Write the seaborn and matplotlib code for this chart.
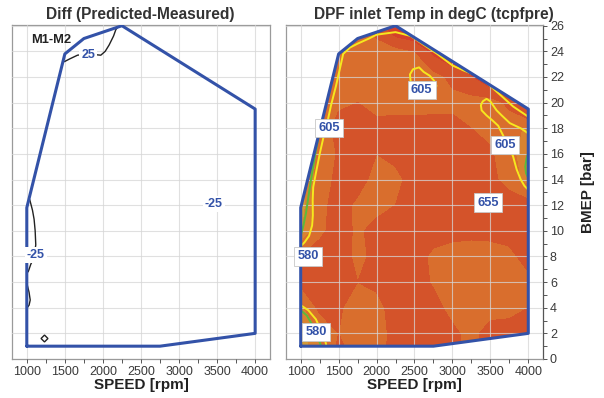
import matplotlib
matplotlib.use("Agg")
import matplotlib.pyplot as plt
from matplotlib.patches import Polygon
from matplotlib.ticker import MultipleLocator
import seaborn as sns

# --- data ------------------------------------------------------------------
speed = [1000, 1250, 1500, 1750, 2000, 2250, 2500, 2750, 3000, 3250, 3500, 3750, 4000]
bmep = [0, 2, 4, 6, 8, 10, 12, 14, 16, 18, 20, 22, 24, 26]

# DPF inlet temperature [degC], one row per bmep value
tcpfpre = [
    [565, 590, 660, 625, 620, 660, 660, 660, 660, 625, 660, 660, 660],
    [570, 605, 640, 622, 620, 655, 660, 660, 650, 625, 660, 660, 660],
    [595, 650, 645, 622, 625, 660, 660, 655, 625, 620, 620, 625, 640],
    [650, 660, 655, 640, 650, 660, 660, 635, 620, 620, 620, 620, 630],
    [640, 660, 660, 630, 650, 660, 660, 630, 620, 622, 625, 630, 655],
    [575, 630, 660, 632, 655, 660, 660, 660, 655, 650, 650, 655, 660],
    [565, 625, 660, 630, 625, 640, 660, 660, 660, 660, 660, 660, 655],
    [570, 620, 650, 660, 622, 630, 655, 660, 660, 660, 650, 625, 590],
    [580, 610, 645, 660, 640, 650, 660, 660, 660, 660, 645, 615, 585],
    [590, 605, 660, 660, 650, 660, 660, 660, 655, 640, 630, 615, 600],
    [595, 600, 630, 640, 628, 620, 620, 622, 628, 625, 620, 650, 710],
    [600, 600, 610, 620, 620, 620, 620, 625, 650, 675, 720, 760, 760],
    [600, 600, 605, 620, 620, 625, 640, 690, 720, 740, 740, 740, 740],
    [600, 600, 600, 620, 660, 720, 740, 740, 740, 740, 740, 740, 740],
]
temp_levels = [500, 580, 605, 640, 680, 800]

# engine operating envelope
env_speed = [1000, 2750, 4000, 4000, 2250, 1750, 1500, 1000, 1000]
env_bmep = [1, 1, 2, 19.5, 26, 25, 23.8, 11.8, 1]

# 605 degC iso-lines (yellow)
iso605 = [
    ([1000, 1050, 1110, 1150, 1160, 1158, 1165, 1200, 1254, 1300, 1356, 1400, 1465, 1530, 1560,
      1650, 1750, 1900, 2000, 2250, 2450, 2600, 2800, 3000, 3150, 3320, 3500, 3650, 3800, 4000],
     [8.8, 9.1, 9.6, 10.4, 11.2, 12.4, 13.4, 14.5, 16.1, 17.3, 18.6, 19.8, 21.3, 23.0, 23.8,
      24.3, 24.6, 25.0, 25.3, 25.5, 25.2, 24.6, 23.8, 22.9, 22.5, 22.1, 21.3, 20.5, 19.7, 18.9]),
    ([1000, 1100, 1200, 1270, 1320, 1340],
     [4.2, 3.8, 3.1, 2.2, 1.5, 1.0]),
    ([2450, 2440, 2480, 2560, 2620, 2700, 2760, 2790, 2700, 2500, 2450],
     [21.6, 22.2, 22.6, 22.75, 22.4, 22.1, 21.7, 21.3, 20.9, 20.9, 21.6]),
    ([4000, 3900, 3757, 3650, 3582, 3500, 3450, 3400, 3375, 3385, 3450, 3530, 3603, 3680,
      3757, 3800, 3846, 3900, 3950, 4000],
     [17.6, 18.0, 18.4, 19.0, 19.4, 20.1, 20.3, 20.1, 19.8, 19.4, 19.0, 18.6, 18.2, 17.3,
      16.4, 15.8, 14.8, 14.0, 13.5, 13.2]),
]

# 580 degC iso-lines (green)
iso580 = [
    ([1000, 1035, 1070, 1100, 1136, 1170, 1201, 1235, 1265],
     [9.6, 10.4, 11.4, 12.6, 14.0, 15.2, 16.3, 17.3, 18.2]),
    ([1000, 1080, 1150, 1210, 1250, 1270],
     [3.8, 3.4, 2.7, 1.9, 1.3, 1.0]),
    ([4000, 3975, 3960, 3970, 4000],
     [16.1, 15.6, 15.0, 14.5, 14.1]),
]

# M1-M2 difference iso-lines (black)
diff_lines = [
    ([1495, 1560, 1666, 1800, 1972, 2030, 2082, 2140, 2170, 2213],
     [23.2, 23.4, 23.7, 23.8, 23.7, 24.0, 24.5, 25.2, 25.7, 26.0]),
    ([1025, 1040, 1075, 1096, 1110, 1118, 1100, 1070, 1053, 1030, 1018],
     [12.6, 12.4, 11.6, 10.9, 10.0, 8.9, 8.2, 7.6, 7.4, 7.0, 6.8]),
    ([1005, 1030, 1045, 1030, 1005],
     [5.8, 5.2, 4.6, 4.2, 4.0]),
]
diff_point = ([1228], [1.6])

temp_labels = ["605", "605", "605", "655", "580", "580"]
temp_label_x = [1373, 2594, 3692, 3470, 1100, 1201]
temp_label_y = [18.0, 21.0, 16.7, 12.2, 8.0, 2.1]

diff_labels = ["25", "-25", "-25"]
diff_label_x = [1808, 1118, 3457]
diff_label_y = [23.7, 8.1, 12.1]

# --- style ------------------------------------------------------------------
sns.set_theme(style="whitegrid")
plt.rcParams["font.family"] = ["Liberation Sans", "DejaVu Sans"]

blue = "#3352A8"
fill_colors = ["#D39A36", "#D98330", "#D96E2D", "#D4532A", "#D5402B"]

fig = plt.figure(figsize=(6.04, 3.98), dpi=100)
ax1 = fig.add_axes([0.0199, 0.098, 0.427, 0.839])
ax2 = fig.add_axes([0.4735, 0.098, 0.4255, 0.839])

for ax in (ax1, ax2):
    ax.set_xlim(806, 4194)
    ax.set_ylim(0, 26.05)
    ax.xaxis.set_major_locator(MultipleLocator(500))
    ax.xaxis.set_minor_locator(MultipleLocator(250))
    ax.yaxis.set_major_locator(MultipleLocator(2))
    ax.grid(True, which="major", color="#D6D6D6", lw=0.8, alpha=0.75)
    ax.grid(False, which="minor")
    ax.set_axisbelow(False)
    for s in ax.spines.values():
        s.set_color("#9A9A9A")
        s.set_linewidth(0.9)
    ax.tick_params(axis="x", which="both", bottom=True, direction="out", length=3,
                   width=0.7, color="#555555", labelsize=9, labelcolor="#3A3A3A", pad=2)
    ax.set_xlabel("SPEED [rpm]", fontsize=11, fontweight="bold", color="#222222", labelpad=0)

ax1.tick_params(axis="y", left=False, labelleft=False)
ax2.yaxis.tick_right()
ax2.yaxis.set_label_position("right")
ax2.yaxis.set_minor_locator(MultipleLocator(1))
ax2.tick_params(axis="y", which="both", right=True, left=False, direction="out", length=3,
                width=0.7, color="#555555", labelsize=9, labelcolor="#3A3A3A", pad=2)
ax2.spines["right"].set_color("#555555")
ax2.set_ylabel("BMEP [bar]", fontsize=11, fontweight="bold", color="#222222", labelpad=12)

# --- right panel: temperature map -----------------------------------------
clip2 = Polygon(list(zip(env_speed, env_bmep)), closed=True, transform=ax2.transData)
cs = ax2.contourf(speed, bmep, tcpfpre, levels=temp_levels, colors=fill_colors, zorder=1)
cs.set_clip_path(clip2)

for xs, ys in iso605:
    ln, = ax2.plot(xs, ys, color="#F6E81E", lw=1.4, zorder=3)
    ln.set_clip_path(clip2)
for xs, ys in iso580:
    ln, = ax2.plot(xs, ys, color="#5CBB3A", lw=1.4, zorder=3)
    ln.set_clip_path(clip2)

sns.lineplot(x=env_speed, y=env_bmep, sort=False, estimator=None, color=blue, lw=2.2,
             ax=ax2, zorder=4)

for t, x, y in zip(temp_labels, temp_label_x, temp_label_y):
    ax2.text(x, y, t, ha="center", va="center", fontsize=9.3, fontweight="bold", color=blue,
             zorder=6, bbox=dict(boxstyle="square,pad=0.25", fc="white", ec="#C8C8C8", lw=0.6))

# --- left panel: difference map -------------------------------------------
clip1 = Polygon(list(zip(env_speed, env_bmep)), closed=True, transform=ax1.transData)
for xs, ys in diff_lines:
    ln, = ax1.plot(xs, ys, color="#222222", lw=1.0, zorder=3)
    ln.set_clip_path(clip1)
ax1.plot(diff_point[0], diff_point[1], marker="D", ms=3.5, mfc="white", mec="#222222",
         mew=1.0, ls="none", zorder=3)

sns.lineplot(x=env_speed, y=env_bmep, sort=False, estimator=None, color=blue, lw=2.2,
             ax=ax1, zorder=4)

for t, x, y in zip(diff_labels, diff_label_x, diff_label_y):
    ax1.text(x, y, t, ha="center", va="center", fontsize=9, fontweight="bold", color=blue,
             zorder=6, bbox=dict(boxstyle="square,pad=0.15", fc="white", ec="none"))
ax1.text(1315, 24.9, "M1-M2", ha="center", va="center", fontsize=9.3, fontweight="bold",
         color="#222222", zorder=6)

# titles
fig.text(0.2317, 0.963, "Diff (Predicted-Measured)", ha="center", va="center",
         fontsize=11.2, fontweight="bold", color="#333333")
fig.text(0.7185, 0.963, "DPF inlet Temp in degC (tcpfpre)", ha="center", va="center",
         fontsize=11.2, fontweight="bold", color="#333333")

fig.savefig("out.png", dpi=100)
